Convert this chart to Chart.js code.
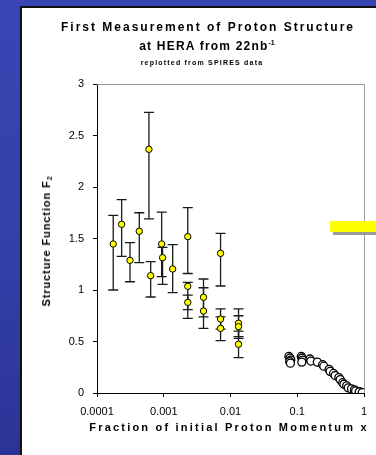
<!DOCTYPE html>
<html>
<head>
<meta charset="utf-8">
<script src="https://cdn.jsdelivr.net/npm/chart.js@4.4.1/dist/chart.umd.min.js"></script>
<style>
  html, body { margin:0; padding:0; }
  body { width:376px; height:455px; overflow:hidden; position:relative;
         background: linear-gradient(180deg, #3846b4 0%, #3240a8 55%, #2c3396 100%);
         font-family: "Liberation Sans", Arial, sans-serif; }
  #panel { position:absolute; left:20px; top:6px; width:356px; height:449px; background:#fff;
           border-left:2px solid #111; border-top:2px solid #111; box-sizing:border-box; }
  #c { position:absolute; left:0; top:0; z-index:2; }
  .t { position:absolute; z-index:3; color:#000; font-weight:bold; white-space:nowrap; }
  #t1 { left:208px; top:27px; transform:translate(-50%,-50%); font-size:12px; letter-spacing:2px; }
  #t2 { left:207px; top:46px; transform:translate(-50%,-50%); font-size:12px; letter-spacing:1.2px; }
  #t2 sup { font-size:7px; vertical-align:5px; line-height:0; letter-spacing:0; }
  #t3 { left:202px; top:62px; transform:translate(-50%,-50%); font-size:7px; letter-spacing:1.2px; }
  #ty { left:46px; top:241px; transform:translate(-50%,-50%) rotate(-90deg); font-size:11px; letter-spacing:0.9px; }
  #ty sub { font-size:7px; vertical-align:-2px; line-height:0; }
  #tx { left:229px; top:427px; transform:translate(-50%,-50%); font-size:11px; letter-spacing:2.2px; }
  #bar { position:absolute; left:330px; top:221px; width:46px; height:11px; background:#ffff00;
         box-shadow: 3px 3px 0 #9a9a9a; z-index:4; }
</style>
</head>
<body>
<div id="panel"></div>
<canvas id="c" width="376" height="455"></canvas>
<div class="t" id="t1">First Measurement of Proton Structure</div>
<div class="t" id="t2">at HERA from 22nb<sup>-1</sup></div>
<div class="t" id="t3">replotted from SPIRES data</div>
<div class="t" id="ty">Structure Function F<sub>2</sub></div>
<div class="t" id="tx">Fraction of initial Proton Momentum x</div>
<div id="bar"></div>
<script>
// ---- data ----
const xTickValues = [0.0001, 0.001, 0.01, 0.1, 1];
const xTickLabels = ['0.0001', '0.001', '0.01', '0.1', '1'];
const yTickValues = [0, 0.5, 1, 1.5, 2, 2.5, 3];
const yTickLabels = ['0', '0.5', '1', '1.5', '2', '2.5', '3'];

// HERA points (yellow, with error bars)
const heraX    = [1.75e-4, 2.34e-4, 3.12e-4, 4.3e-4, 6.0e-4, 6.37e-4, 9.3e-4, 9.6e-4, 1.36e-3,
                  2.29e-3, 2.29e-3, 2.29e-3, 3.94e-3, 3.94e-3, 7.1e-3, 7.1e-3, 7.1e-3, 1.32e-2, 1.32e-2, 1.32e-2];
const heraF2   = [1.447, 1.638, 1.288, 1.57, 2.366, 1.139, 1.447, 1.314, 1.204,
                  1.518, 1.036, 0.88, 0.93, 0.796, 1.356, 0.718, 0.628, 0.677, 0.644, 0.473];
const heraLow  = [1.0, 1.327, 1.08, 1.265, 1.69, 0.932, 1.13, 1.055, 0.974,
                  1.16, 0.81, 0.725, 0.74, 0.628, 1.039, 0.62, 0.508, 0.547, 0.53, 0.343];
const heraHigh = [1.725, 1.877, 1.46, 1.75, 2.725, 1.275, 1.757, 1.414, 1.44,
                  1.80, 1.075, 0.95, 1.107, 1.022, 1.55, 0.816, 0.74, 0.816, 0.75, 0.60];

// fixed-target points (open circles)
const fixedX  = [0.075, 0.078, 0.08, 0.077, 0.079, 0.115, 0.118, 0.12, 0.117, 0.155, 0.16,
                 0.2, 0.24, 0.25, 0.3, 0.31, 0.35, 0.37, 0.42, 0.44, 0.48, 0.5, 0.55, 0.58, 0.65, 0.72, 0.75, 0.85, 0.94];
const fixedF2 = [0.355, 0.34, 0.32, 0.305, 0.29, 0.355, 0.34, 0.32, 0.30, 0.33, 0.31,
                 0.30, 0.275, 0.26, 0.23, 0.21, 0.19, 0.17, 0.15, 0.13, 0.10, 0.085, 0.07, 0.05, 0.04, 0.03, 0.02, 0.012, 0.005];

const tickFont = { family: '"Liberation Sans", Arial, sans-serif', size: 11 };

const errorBars = {
  id: 'errorBars',
  beforeDatasetsDraw(chart) {
    const { ctx, scales: { x, y } } = chart;
    ctx.save();
    ctx.strokeStyle = '#1a1a1a';
    ctx.lineWidth = 1.3;
    for (let i = 0; i < heraX.length; i++) {
      const px = x.getPixelForValue(heraX[i]);
      const pLo = y.getPixelForValue(heraLow[i]);
      const pHi = y.getPixelForValue(heraHigh[i]);
      ctx.beginPath();
      ctx.moveTo(px, pLo); ctx.lineTo(px, pHi);
      ctx.moveTo(px - 5, pLo); ctx.lineTo(px + 5, pLo);
      ctx.moveTo(px - 5, pHi); ctx.lineTo(px + 5, pHi);
      ctx.stroke();
    }
    ctx.restore();
  }
};

const frame = {
  id: 'frame',
  afterDraw(chart) {
    const { ctx, chartArea: a } = chart;
    ctx.save();
    ctx.strokeStyle = '#9a9a9a';
    ctx.lineWidth = 1;
    ctx.beginPath();
    ctx.moveTo(a.left, a.top + 0.5); ctx.lineTo(a.right + 0.5, a.top + 0.5);
    ctx.lineTo(a.right + 0.5, a.bottom);
    ctx.stroke();
    ctx.restore();
  }
};

new Chart(document.getElementById('c'), {
  type: 'scatter',
  data: {
    datasets: [
      {
        label: 'HERA',
        data: heraX.map((v, i) => ({ x: v, y: heraF2[i] })),
        pointRadius: 3.2,
        pointBackgroundColor: '#ffff00',
        pointBorderColor: '#000',
        pointBorderWidth: 1
      },
      {
        label: 'fixed target',
        data: fixedX.map((v, i) => ({ x: v, y: fixedF2[i] })),
        pointRadius: 4,
        pointBackgroundColor: '#ffffff',
        pointBorderColor: '#000',
        pointBorderWidth: 1.3
      }
    ]
  },
  options: {
    responsive: false,
    animation: false,
    layout: { padding: { top: 84, right: 12, left: 0, bottom: 0 } },
    plugins: { legend: { display: false }, tooltip: { enabled: false } },
    scales: {
      x: {
        type: 'logarithmic',
        min: 0.0001, max: 1,
        afterBuildTicks: s => { s.ticks = xTickValues.map(v => ({ value: v })); },
        afterFit: s => { s.height = 62; },
        grid: { display: true, drawOnChartArea: false, drawTicks: true, tickLength: 4, color: '#000' },
        border: { display: true, color: '#000', width: 1 },
        ticks: {
          autoSkip: false, maxRotation: 0, color: '#000', font: tickFont, padding: 8,
          callback: (v) => xTickLabels[xTickValues.indexOf(v)]
        }
      },
      y: {
        type: 'linear',
        min: 0, max: 3,
        afterBuildTicks: s => { s.ticks = yTickValues.map(v => ({ value: v })); },
        afterFit: s => { s.width = 97; },
        grid: { display: true, drawOnChartArea: false, drawTicks: true, tickLength: 4, color: '#000' },
        border: { display: true, color: '#000', width: 1 },
        ticks: {
          color: '#000', font: tickFont, padding: 9,
          callback: (v) => yTickLabels[yTickValues.indexOf(v)]
        }
      }
    }
  },
  plugins: [errorBars, frame]
});
</script>
</body>
</html>
